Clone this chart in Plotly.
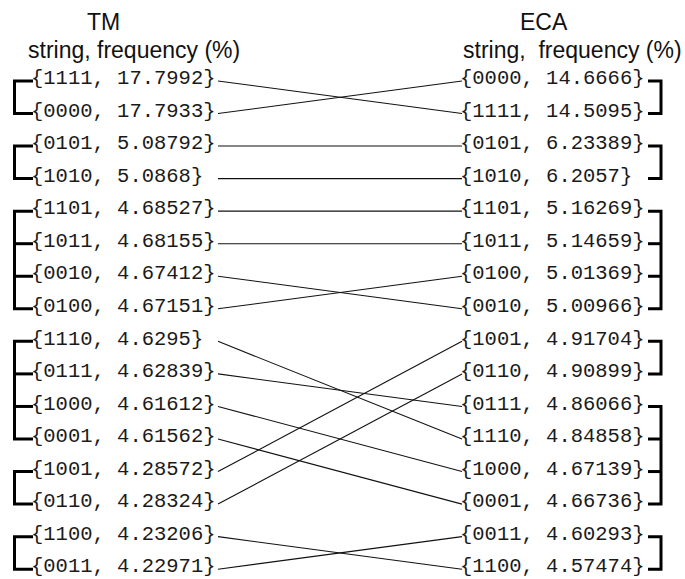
import plotly.graph_objects as go

# ---- data ----
tm_strings = ["1111", "0000", "0101", "1010", "1101", "1011", "0010", "0100",
              "1110", "0111", "1000", "0001", "1001", "0110", "1100", "0011"]
tm_freqs = ["17.7992", "17.7933", "5.08792", "5.0868", "4.68527", "4.68155", "4.67412", "4.67151",
            "4.6295", "4.62839", "4.61612", "4.61562", "4.28572", "4.28324", "4.23206", "4.22971"]
eca_strings = ["0000", "1111", "0101", "1010", "1101", "1011", "0100", "0010",
               "1001", "0110", "0111", "1110", "1000", "0001", "0011", "1100"]
eca_freqs = ["14.6666", "14.5095", "6.23389", "6.2057", "5.16269", "5.14659", "5.01369", "5.00966",
             "4.91704", "4.90899", "4.86066", "4.84858", "4.67139", "4.66736", "4.60293", "4.57474"]
tm_groups = [2, 2, 4, 4, 2, 2]
eca_groups = [2, 2, 4, 2, 4, 2]
tm_title = ["TM", "string, frequency (%)"]
eca_title = ["ECA", "string,\u00a0 frequency (%)"]

# ---- layout constants (pixels) ----
W, H = 685, 579
ROW0_PX, ROW_STEP_PX = 79, 32.55
LEFT_TEXT_X, LEFT_LINE_X = 31, 218
RIGHT_LINE_X, RIGHT_TEXT_X = 462, 460
LEFT_BRACKET_X, RIGHT_BRACKET_X = 14.5, 661
RIGHT_TICK_X0 = 648
TICK_OFF = 0.06
MONO = dict(family="Liberation Mono, Courier New, monospace", size=20.5, color="#1a1a1a")

fig = go.Figure()

n = len(tm_strings)
rows = list(range(n))

# connecting lines
lx, ly = [], []
for i, s in enumerate(tm_strings):
    j = eca_strings.index(s)
    lx += [LEFT_LINE_X, RIGHT_LINE_X, None]
    ly += [i + TICK_OFF, j + TICK_OFF, None]
fig.add_trace(go.Scatter(x=lx, y=ly, mode="lines", line=dict(color="#111", width=1.1),
                         hoverinfo="skip", showlegend=False))

# brackets
def bracket(groups, xv, xt):
    bx, by = [], []
    start = 0
    for g in groups:
        top, bot = start + TICK_OFF, start + g - 1 + TICK_OFF
        bx += [xt, xv, xv, xt, None]
        by += [top, top, bot, bot, None]
        for k in range(start + 1, start + g - 1):
            bx += [xv, xt, None]
            by += [k + TICK_OFF, k + TICK_OFF, None]
        start += g
    return bx, by

bx, by = bracket(tm_groups, LEFT_BRACKET_X, LEFT_TEXT_X + 2)
fig.add_trace(go.Scatter(x=bx, y=by, mode="lines", line=dict(color="black", width=3),
                         hoverinfo="skip", showlegend=False))
bx, by = bracket(eca_groups, RIGHT_BRACKET_X, RIGHT_TICK_X0)
fig.add_trace(go.Scatter(x=bx, y=by, mode="lines", line=dict(color="black", width=3),
                         hoverinfo="skip", showlegend=False))

# labels
fig.add_trace(go.Scatter(x=[LEFT_TEXT_X] * n, y=rows, mode="text",
                         text=["{%s, %s}" % (s, f) for s, f in zip(tm_strings, tm_freqs)],
                         textposition="middle right", textfont=MONO,
                         hoverinfo="skip", showlegend=False))
fig.add_trace(go.Scatter(x=[RIGHT_TEXT_X] * n, y=rows, mode="text",
                         text=["{%s, %s}" % (s, f) for s, f in zip(eca_strings, eca_freqs)],
                         textposition="middle right", textfont=MONO,
                         hoverinfo="skip", showlegend=False))

# titles
SANS = dict(family="Liberation Sans, Arial, sans-serif", size=23, color="#111")
for txt, xc, yp in [(tm_title[0], 103, 22), (tm_title[1], 133.5, 50),
                    (eca_title[0], 544, 22), (eca_title[1], 572, 50)]:
    fig.add_annotation(x=xc, y=1 - yp / H, xref="x", yref="paper", text=txt,
                       showarrow=False, font=SANS, xanchor="center", yanchor="middle")

top_val = -ROW0_PX / ROW_STEP_PX
bot_val = top_val + H / ROW_STEP_PX
fig.update_xaxes(range=[0, W], visible=False, fixedrange=True)
fig.update_yaxes(range=[bot_val, top_val], visible=False, fixedrange=True)
fig.update_layout(width=W, height=H, margin=dict(l=0, r=0, t=0, b=0),
                  plot_bgcolor="white", paper_bgcolor="white")
fig.write_html("out.html", config={"displayModeBar": False},
               post_script="document.body.style.margin='0';document.body.style.overflow='hidden';")
